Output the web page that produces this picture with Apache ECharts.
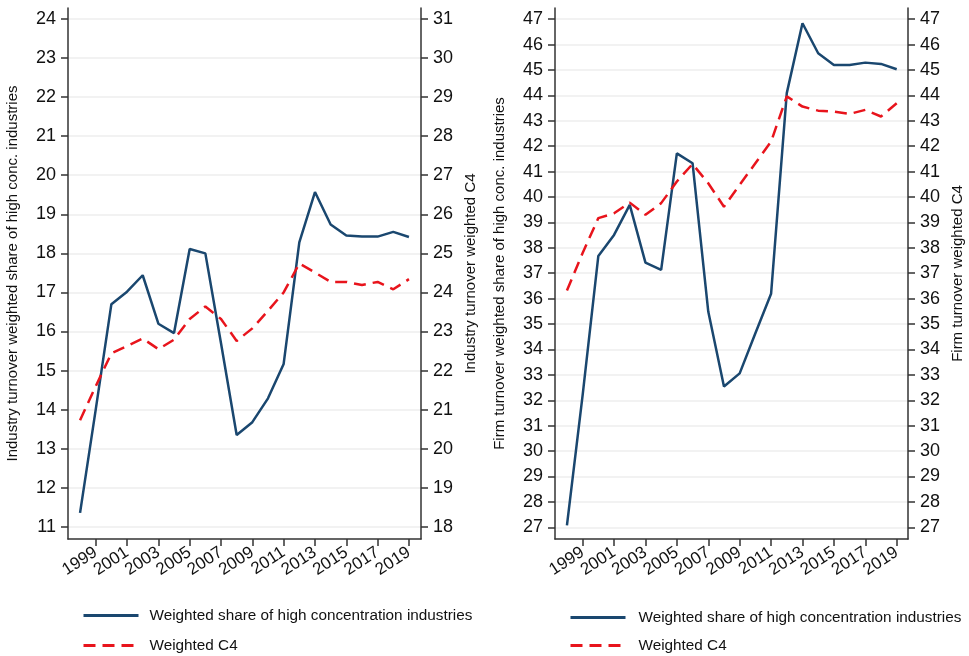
<!DOCTYPE html>
<html>
<head>
<meta charset="utf-8">
<script src="https://cdn.jsdelivr.net/npm/echarts@6/dist/echarts.min.js"></script>
<style>
html,body{margin:0;padding:0;background:#fff;}
#chart{width:969px;height:656px;}
</style>
</head>
<body>
<div id="chart"></div>
<script>
const years = [1998,1999,2000,2001,2002,2003,2004,2005,2006,2007,2008,2009,2010,2011,2012,2013,2014,2015,2016,2017,2018,2019];
const xTickYears = [1999,2001,2003,2005,2007,2009,2011,2013,2015,2017,2019];

// Left panel: industry turnover weighted
const industryShare = [11.36,14.0,16.70,17.02,17.44,16.20,15.96,18.11,18.00,15.70,13.35,13.68,14.29,15.17,18.28,19.57,18.74,18.46,18.43,18.43,18.55,18.42];
const industryC4 = [20.73,21.60,22.44,22.63,22.82,22.55,22.79,23.32,23.64,23.32,22.76,23.08,23.53,24.00,24.74,24.51,24.27,24.27,24.19,24.27,24.08,24.34];
const industryLeftTicks = [11,12,13,14,15,16,17,18,19,20,21,22,23,24];
const industryRightTicks = [18,19,20,21,22,23,24,25,26,27,28,29,30,31];

// Right panel: firm turnover weighted
const firmShare = [27.08,32.2,37.68,38.51,39.69,37.42,37.13,41.72,41.33,35.49,32.54,33.06,34.64,36.19,44.09,46.84,45.66,45.20,45.20,45.29,45.24,45.03];
const firmC4 = [36.32,37.80,39.17,39.36,39.78,39.30,39.76,40.61,41.30,40.54,39.62,40.48,41.33,42.18,43.96,43.56,43.40,43.36,43.27,43.43,43.17,43.69];
const firmTicks = [27,28,29,30,31,32,33,34,35,36,37,38,39,40,41,42,43,44,45,46,47];

const shareName = 'Weighted share of high concentration industries';
const c4Name = 'Weighted C4';

const FONT = 'Liberation Sans, Arial, sans-serif';
const AXIS_COLOR = '#333';
const NAVY = '#1a476f';
const RED = '#e8141c';

function pairs(vals){ return years.map((y,i)=>[y, vals[i]]); }

function xAxisDef(gridIndex, min, max){
  return {
    type:'value', gridIndex, min, max,
    axisLine:{show:true, onZero:false, lineStyle:{color:AXIS_COLOR, width:1.5}},
    axisTick:{show:true, length:7, interval:0, customValues:xTickYears, lineStyle:{color:AXIS_COLOR, width:1.5}},
    axisLabel:{customValues:xTickYears, interval:0, rotate:33, margin:12, hideOverlap:false,
               color:'#111', fontSize:17, fontFamily:FONT, formatter:v=>String(v)},
    splitLine:{show:false}
  };
}
function yAxisDef(gridIndex, pos, min, max, ticks, name, grid, nameGap){
  return {
    type:'value', gridIndex, position:pos, min, max,
    name, nameLocation:'middle', nameGap,
    nameTextStyle:{fontSize:15, fontFamily:FONT, color:'#111'},
    axisLine:{show:true, onZero:false, lineStyle:{color:AXIS_COLOR, width:1.5}},
    axisTick:{show:true, length:7, interval:0, customValues:ticks, lineStyle:{color:AXIS_COLOR, width:1.5}},
    axisLabel:{customValues:ticks, interval:0, margin:12, hideOverlap:false,
               color:'#111', fontSize:18, fontFamily:FONT},
    splitLine:{show:grid, lineStyle:{color:'#eeeeee', width:1.5}}
  };
}
function lineSeries(name, vals, xi, yi, dashed){
  return {
    type:'line', name, xAxisIndex:xi, yAxisIndex:yi, data:pairs(vals),
    symbol:'none', smooth:false, animation:false,
    lineStyle:{color: dashed?RED:NAVY, width:2.5, type: dashed?[12,7]:'solid'},
    itemStyle:{color: dashed?RED:NAVY},
    z: dashed?3:2
  };
}
function legendDef(name, left, top, width, textGap){
  return {
    left, top, padding:0, orient:'horizontal', itemWidth:width, itemHeight:14, selectedMode:false,
    itemStyle:{opacity:0},
    lineStyle:{width:3},
    data:[name],
    textStyle:{fontSize:15.3, fontFamily:FONT, color:'#111', lineHeight:14, padding:[0,0,0,textGap]}
  };
}

const chart = echarts.init(document.getElementById('chart'), null, {renderer:'canvas'});
chart.setOption({
  backgroundColor:'#fff',
  animation:false,
  grid:[
    {left:68, right:548, top:8, bottom:117, show:false},
    {left:555, right:61, top:8, bottom:117, show:false}
  ],
  xAxis:[ xAxisDef(0, 1997.23, 2019.77), xAxisDef(1, 1997.24, 2019.72) ],
  yAxis:[
    yAxisDef(0,'left',10.69,24.28,industryLeftTicks,'Industry turnover weighted share of high conc. industries',true,48),
    yAxisDef(0,'right',17.69,31.28,industryRightTicks,'Industry turnover weighted C4',false,42),
    yAxisDef(1,'left',26.54,47.44,firmTicks,'Firm turnover weighted share of high conc. industries',true,48),
    yAxisDef(1,'right',26.54,47.44,firmTicks,'Firm turnover weighted C4',false,42)
  ],
  legend:[
    legendDef(shareName, 82, 608, 55, 6),
    legendDef(c4Name, 82, 638, 55, 6),
    legendDef(shareName, 569, 610, 55, 8),
    legendDef(c4Name, 569, 638, 55, 8)
  ],
  series:[
    lineSeries(shareName, industryShare, 0, 0, false),
    lineSeries(c4Name, industryC4, 0, 1, true),
    lineSeries(shareName, firmShare, 1, 2, false),
    lineSeries(c4Name, firmC4, 1, 3, true)
  ]
});
</script>
</body>
</html>
